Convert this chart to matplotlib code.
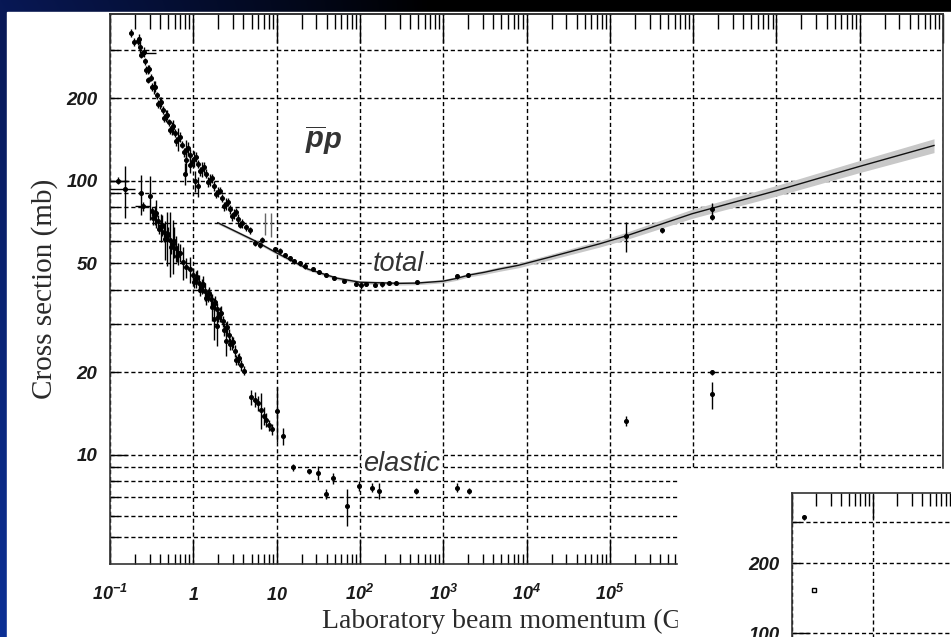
import numpy as np
import matplotlib
matplotlib.use('Agg')
import matplotlib.pyplot as plt
from matplotlib.patches import Rectangle
from matplotlib.ticker import LogLocator, NullFormatter

# ---------------- data ----------------
# pbar-p total cross section (p_lab in GeV/c, sigma in mb)
tot_p = [0.178, 0.216, 0.229, 0.248, 0.262,
         0.285, 0.310, 0.337, 0.366, 0.397,
         0.431, 0.469, 0.509, 0.553, 0.600,
         0.652, 0.728, 0.813, 0.908, 1.01,
         1.13, 1.26, 1.41, 1.58, 1.76,
         1.97, 2.19, 2.45, 2.74, 3.06,
         3.41, 3.81, 4.26, 4.75, 0.285,
         0.794, 1.05, 1.13, 0.81, 0.91,
         5.46, 6.26, 6.6, 9.46, 10.9,
         12.5, 14.3, 16.4, 18.9, 22.2,
         27.0, 32.7, 39.7, 49.5, 65.2,
         90.8, 104, 120, 153, 186,
         225, 273, 488, 1472, 1992,
         1.56e5, 4.2e5, 1.67e6, 1.67e6]
tot_s = [345, 323, 307, 292, 273,
         255, 237, 219, 205, 192,
         181, 172, 163, 155, 149,
         142, 135, 129, 124, 120,
         115, 110, 106, 100.4, 95.5,
         90.8, 86.3, 82.1, 78.7, 75.5,
         72.3, 69.9, 67.7, 65.9, 233,
         106, 99.6, 95.5, 119, 114,
         59.2, 58.2, 60.7, 56.2, 55.3,
         53.5, 52.1, 50.8, 50.0, 48.8,
         47.6, 46.4, 45.2, 44.1, 43.0,
         41.9, 41.6, 41.9, 41.6, 41.9,
         42.3, 42.3, 42.6, 44.8, 45.2,
         62.7, 65.9, 78.7, 73.6]
tot_err = [12, 10, 15, 8, 8,
           10, 7, 12, 6, 10,
           6, 9, 5, 8, 5,
           14, 4, 12, 6, 8,
           4, 7, 4, 5, 4,
           4, 3, 4, 3, 3,
           3, 2.5, 2, 2, 6,
           10, 9, 8, 12, 7,
           1.5, 1.5, 1.5, 1, 1.5,
           1, 1, 1, 1, 1,
           0.8, 0.8, 0.8, 0.6, 0.6,
           0.5, 1.2, 0.5, 0.5, 0.8,
           0.5, 0.5, 0.5, 0.9, 0.8,
           8, 1.5, 4, 2]

# more measurements inside the dense low-momentum band
tot2_p = [0.195, 0.222, 0.238, 0.255, 0.273, 0.297, 0.323, 0.351, 0.381, 0.414,
          0.450, 0.489, 0.531, 0.576, 0.626, 0.690, 0.770, 0.860, 0.96, 1.07,
          1.19, 1.33, 1.49, 1.67, 1.86, 2.08, 2.32, 2.6, 2.9, 3.23, 3.6]
tot2_s = [320, 328, 288, 294, 253, 256, 219, 220, 190, 194,
          169, 174, 153, 158, 139, 144, 127, 131, 117, 122,
          108, 112, 99, 102, 89.5, 92, 80.8, 83.5, 74, 77, 69]
tot2_err = [10, 14, 9, 12, 8, 9, 7, 10, 6, 8,
            6, 7, 5, 9, 5, 6, 5, 7, 4, 5,
            4, 5, 4, 4, 3, 3, 3, 3, 2.5, 2.5, 2]

# points with long one-sided bars near 7-8 GeV/c
tot_up_p = [7.18, 8.47]
tot_up_s = [63.2, 62.2]
tot_up_err = [13, 14]

# horizontal bar near 0.25 GeV/c
tot_xbar_p = [0.248]
tot_xbar_s = [292]
tot_xbar_lo = [0.013]
tot_xbar_hi = [0.107]

# elastic cross section
el_p = [0.125, 0.15, 0.235, 0.301, 0.249,
        0.319, 0.346, 0.376, 0.408, 0.443,
        0.482, 0.523, 0.568, 0.617, 0.653,
        0.748, 0.813, 0.908, 0.986, 1.07,
        1.16, 1.26, 1.37, 1.49, 1.63,
        1.77, 1.91, 2.08, 2.26, 2.45,
        2.66, 2.89, 3.14, 3.41, 3.70,
        4.02, 1.77, 1.93, 2.45, 4.89,
        5.46, 5.92, 6.42, 6.97, 7.56,
        8.2, 8.9, 10.0, 11.8, 15.6,
        24.8, 31.8, 39.7, 48.2, 70.8,
        98.6, 141, 171, 475, 1472,
        2046, 1.56e5, 1.67e6, 1.67e6]
el_s = [100, 93, 90, 87.8, 80.7,
        77.4, 74.8, 71.2, 67.6, 64.9,
        62.7, 60.6, 58.6, 56.7, 54.4,
        50.4, 48.3, 47.5, 45.2, 43.7,
        42.3, 41.2, 39.5, 38.2, 36.9,
        35.4, 33.9, 32.6, 30.7, 28.9,
        27.3, 25.7, 23.9, 22.3, 21.2,
        20.3, 31.2, 29.5, 26.0, 16.2,
        15.9, 15.4, 14.6, 13.9, 13.4,
        12.8, 12.4, 14.4, 11.7, 9.0,
        8.7, 8.6, 7.2, 8.2, 6.5,
        7.7, 7.6, 7.4, 7.4, 7.6,
        7.4, 13.3, 20.0, 16.6]
el_err = [3, 20, 15, 16, 3,
          3, 6, 4, 8, 5,
          14, 16, 13, 6, 5,
          7, 4, 5, 3, 3,
          3, 2.5, 3, 2, 2,
          2, 2, 2, 1.5, 1.5,
          1.5, 1.5, 1.2, 1, 1,
          0.8, 5, 4.5, 3, 1,
          1, 1, 2.2, 1, 0.8,
          0.6, 0.6, 3.3, 0.8, 0.3,
          0.2, 0.5, 0.3, 0.4, 1.0,
          0.3, 0.3, 0.5, 0.2, 0.3,
          0.2, 0.6, 0.4, 1.9]

el2_p = [0.33, 0.36, 0.39, 0.425, 0.46, 0.50, 0.545, 0.59, 0.635, 0.70,
         1.03, 1.11, 1.21, 1.31, 1.43, 1.56, 1.70, 1.84, 2.0, 2.17,
         2.35, 2.55, 2.77, 3.0, 3.27, 3.55]
el2_s = [73, 76, 66.7, 68.7, 61.2, 64, 57.2, 60, 53.3, 54.5,
         42.6, 44.7, 40, 42, 37.2, 39, 34.7, 36, 31.9, 32.9,
         28.6, 29.2, 25.4, 25.8, 22.2, 22.6]
el2_err = [4, 9, 3, 6, 10, 4, 3, 8, 3, 4,
           2, 2.5, 2, 3, 2, 2, 4, 2, 1.5, 2,
           1.5, 1.5, 1.2, 1.2, 1, 1]

el_xbar_p = [0.125, 0.15, 0.249]
el_xbar_s = [100, 93, 80.7]
el_xbar_lo = [0.025, 0.05, 0.05]
el_xbar_hi = [0.045, 0.05, 0.05]

# fit curve to the total cross section with its error band
curve_p = [1.97, 5.5, 10, 23.7, 52.7, 100, 300, 480, 1000, 1400, 2075, 3100, 4740,
           8000, 1.86e4, 7.5e4, 1.58e5, 9.7e5, 1e7, 9.8e7, 7.8e8]
curve_s = [70.2, 60.3, 54.5, 47.6, 44.1, 42.6, 42.2, 42.3, 43.0, 43.9, 45.3, 46.3, 47.6,
           49.1, 52.5, 58.8, 62.9, 75.7, 91.9, 112.5, 134.3]
band_lo = [69.4, 59.5, 53.8, 47.0, 43.5, 42.0, 41.6, 41.7, 42.4, 43.2, 44.6, 45.5, 46.7,
           48.1, 51.3, 57.2, 61.0, 72.8, 87.8, 106.8, 126.5]
band_hi = [71.0, 61.1, 55.2, 48.2, 44.7, 43.2, 42.8, 42.9, 43.6, 44.6, 46.0, 47.1, 48.5,
           50.1, 53.7, 60.4, 64.8, 78.6, 96.0, 118.2, 142.1]

# second (cropped) plot in the lower right corner
ins_p = [0.14]
ins_s = [315]
ins_err = [8]
ins_sq_p = [0.187]
ins_sq_s = [153]

x_decades = [1e-1, 1, 10, 1e2, 1e3, 1e4, 1e5, 1e6, 1e7, 1e8, 1e9]
x_labels = [r'$10^{-1}$', r'$1$', r'$10$', r'$10^{2}$', r'$10^{3}$', r'$10^{4}$',
            r'$10^{5}$', '', '', '', '']
y_major = [10, 100]
y_minor = [5, 6, 7, 8, 9, 20, 30, 40, 50, 60, 70, 80, 90, 200, 300]
y_minor_labels = ['', '', '', '', '', '20', '', '', '50', '', '', '', '', '200', '']

# ---------------- style ----------------
plt.rcParams['font.family'] = 'Liberation Sans'
plt.rcParams['font.weight'] = 'bold'
plt.rcParams['font.style'] = 'italic'
plt.rcParams['mathtext.fontset'] = 'custom'
plt.rcParams['mathtext.rm'] = 'Liberation Sans:bold:italic'
plt.rcParams['mathtext.it'] = 'Liberation Sans:bold:italic'
plt.rcParams['mathtext.bf'] = 'Liberation Sans:bold:italic'
plt.rcParams['mathtext.sf'] = 'Liberation Sans:italic'

W, H = 951, 637
fig = plt.figure(figsize=(W / 100, H / 100), dpi=100)
fig.patch.set_facecolor('white')


def px(x0, y0, x1, y1):
    # pixel box (left, top, right, bottom) -> figure rect
    return [x0 / W, 1 - y1 / H, (x1 - x0) / W, (y1 - y0) / H]


# slide background (blue strip left, dark strip on top)
bg = fig.add_axes([0, 0, 1, 1], zorder=-10)
tv = np.linspace(0, 1, H)[:, None, None]
th = np.linspace(0, 1, W)[None, :, None]
c_top = np.array([8, 24, 85]) / 255
c_bot = np.array([12, 48, 150]) / 255
rgb = (c_top * (1 - tv) + c_bot * tv) * np.clip(1 - 2.2 * th, 0, 1)
bg.imshow(rgb, aspect='auto', extent=[0, 1, 0, 1])
bg.axis('off')
fig.add_artist(Rectangle((7 / W, 0), 1, 1 - 12 / H, transform=fig.transFigure,
                         color='white', zorder=-5))

grid_kw = dict(color='k', lw=1.0, ls=(0, (3, 2)))
lab_col = '#1a1a1a'

# ---------------- main plot ----------------
ax = fig.add_axes(px(110, 14, 943, 564), zorder=0)
ax.set_xscale('log')
ax.set_yscale('log')
ax.set_xlim(0.1, 1e9)
ax.set_ylim(4, 405)
ax.set_axisbelow(True)

ax.fill_between(curve_p, band_lo, band_hi, color='#c8c8c8', lw=0, zorder=2)
ax.plot(curve_p, curve_s, color='#111111', lw=1.0, zorder=3)

eb = dict(fmt='o', ms=2.6, color='k', ecolor='k', elinewidth=1, capsize=0, zorder=4)
ax.errorbar(tot_p, tot_s, yerr=tot_err, **eb)
ax.errorbar(tot2_p, tot2_s, yerr=tot2_err, **eb)
ax.errorbar(el_p, el_s, yerr=el_err, **eb)
ax.errorbar(el2_p, el2_s, yerr=el2_err, **eb)
ax.errorbar(tot_up_p, tot_up_s, yerr=[[0, 0], tot_up_err], fmt='none',
            ecolor='#666666', elinewidth=1, zorder=4)
ax.errorbar(tot_xbar_p, tot_xbar_s, xerr=[tot_xbar_lo, tot_xbar_hi], fmt='none',
            ecolor='k', elinewidth=1, zorder=4)
ax.errorbar(el_xbar_p, el_xbar_s, xerr=[el_xbar_lo, el_xbar_hi], fmt='none',
            ecolor='k', elinewidth=1, zorder=4)

# ticks
ax.set_xticks(x_decades, labels=x_labels)
ax.xaxis.set_minor_locator(LogLocator(base=10, subs=np.arange(2, 10), numticks=100))
ax.xaxis.set_minor_formatter(NullFormatter())
ax.set_yticks(y_major, labels=['10', '100'])
ax.set_yticks(y_minor, labels=y_minor_labels, minor=True)
ax.tick_params(axis='x', which='major', direction='in', length=17, width=1,
               pad=26, labelsize=13, labelcolor=lab_col, top=False)
ax.tick_params(axis='x', which='minor', direction='in', length=7, width=1, top=False)
ax.tick_params(axis='y', which='both', direction='in', width=1, pad=9,
               labelsize=13.5, labelcolor=lab_col)
ax.tick_params(axis='y', which='major', length=12)
ax.tick_params(axis='y', which='minor', length=6)
plt.setp(ax.get_xticklabels(), va='baseline')

ax.grid(True, which='major', axis='x', **grid_kw)
ax.grid(True, which='both', axis='y', **grid_kw)

top = ax.secondary_xaxis('top')
top.set_xticks(x_decades)
top.xaxis.set_minor_locator(LogLocator(base=10, subs=np.arange(2, 10), numticks=100))
top.xaxis.set_major_formatter(NullFormatter())
top.xaxis.set_minor_formatter(NullFormatter())
top.tick_params(which='major', direction='in', length=21, width=1)
top.tick_params(which='minor', direction='in', length=11, width=1)

for sp in list(ax.spines.values()) + [top.spines['top']]:
    sp.set_linewidth(1.2)
    sp.set_color('#333333')

# labels inside the plot
fig.text(305 / W, 1 - 149 / H, r'$\overline{\mathsf{p}}\mathsf{p}$', fontsize=21,
         color='#333333', ha='left', va='baseline')
fig.text(373 / W, 1 - 271 / H, 'total', fontsize=19.5, style='italic', weight='normal',
         color='#333333', ha='left', va='baseline',
         bbox=dict(fc='white', ec='none', pad=1))
fig.text(363 / W, 1 - 471 / H, 'elastic', fontsize=19.5, style='italic', weight='normal',
         color='#333333', ha='left', va='baseline',
         bbox=dict(fc='white', ec='none', pad=1))

# axis titles
fig.text(322 / W, 1 - 628 / H, 'Laboratory beam momentum (GeV/c)', family='Liberation Serif',
         style='normal', weight='normal', fontsize=20, color='#2a2a2a',
         ha='left', va='baseline')
fig.text(45 / W, 1 - 289 / H, 'Cross section (mb)', family='Liberation Serif',
         style='normal', weight='normal', fontsize=21, color='#2a2a2a',
         rotation=90, ha='center', va='center')

# ---------------- second picture pasted on top (lower right) ----------------
fig.add_artist(Rectangle((678 / W, 0), 1 - 678 / W, (H - 469) / H,
                         transform=fig.transFigure, color='white', zorder=5))

ax2 = fig.add_axes(px(792, 493, 1602, 959), zorder=10)
ax2.set_xscale('log')
ax2.set_yscale('log')
ax2.set_xlim(0.1, 1e9)
ax2.set_ylim(4, 400)
ax2.set_axisbelow(True)
ax2.errorbar(ins_p, ins_s, yerr=ins_err, **eb)
ax2.plot(ins_sq_p, ins_sq_s, 's', ms=3, mfc='none', mec='k', mew=1, zorder=4)

ax2.set_xticks(x_decades)
ax2.xaxis.set_minor_locator(LogLocator(base=10, subs=np.arange(2, 10), numticks=100))
ax2.xaxis.set_major_formatter(NullFormatter())
ax2.xaxis.set_minor_formatter(NullFormatter())
ax2.tick_params(axis='x', which='both', direction='in', top=True, bottom=False,
                labeltop=False, labelbottom=False, width=1)
ax2.tick_params(axis='x', which='major', length=18)
ax2.tick_params(axis='x', which='minor', length=9)
ax2.set_yticks(y_major, labels=['10', '100'])
ax2.set_yticks(y_minor, labels=y_minor_labels, minor=True)
ax2.tick_params(axis='y', which='both', direction='in', width=1, pad=9,
                labelsize=13.5, labelcolor=lab_col)
ax2.tick_params(axis='y', which='major', length=12)
ax2.tick_params(axis='y', which='minor', length=6)
ax2.grid(True, which='major', axis='x', **grid_kw)
ax2.grid(True, which='both', axis='y', **grid_kw)
for sp in ax2.spines.values():
    sp.set_linewidth(1.2)
    sp.set_color('#333333')

fig.text(722 / W, 1 - 745 / H, 'Cross section (mb)', family='Liberation Serif',
         style='normal', weight='normal', fontsize=21, color='#2a2a2a',
         rotation=90, ha='center', va='center', zorder=11)

fig.savefig('out.png', dpi=100)
